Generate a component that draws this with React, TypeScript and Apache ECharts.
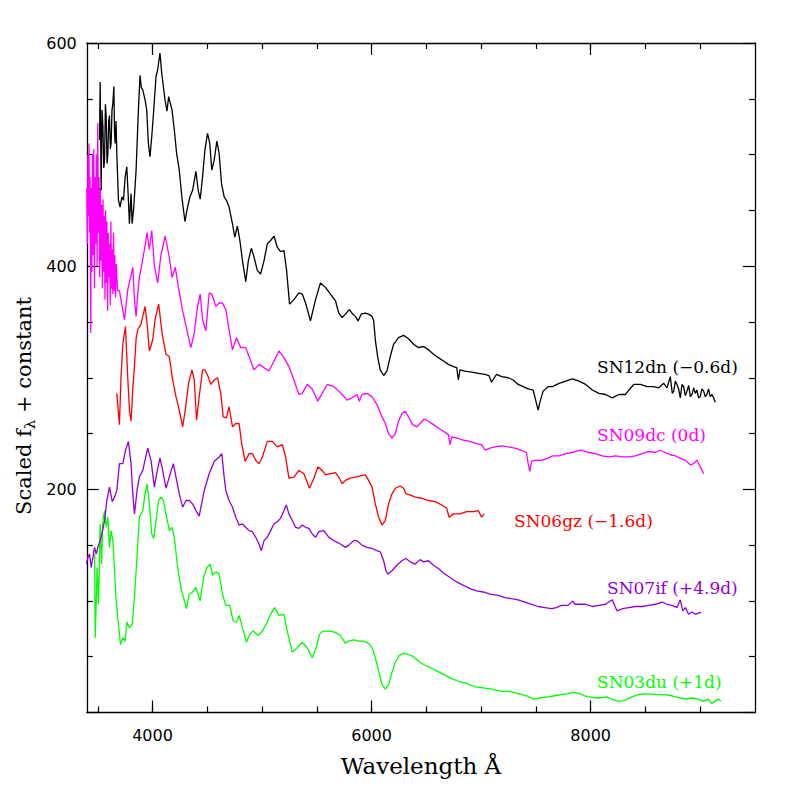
import React, { useEffect, useRef } from "react";
import * as echarts from "echarts";

// Wavelength (Å), scaled flux + constant
const SN12dn: [number, number][] = [
  [3516,513],[3522,565],[3531,468],[3539,540],[3547,525],[3555,488],[3562,495],[3570,545],[3577,534],[3585,492],[3592,500],[3600,530],[3607,535],[3615,505],[3622,510],[3630,540],[3638,546],[3647,561],[3653,520],[3659,510],[3667,530],[3674,501],[3689,459],[3704,453],[3720,462],[3735,459],[3750,480],[3765,489],[3780,459],[3789,438],[3804,465],[3814,438],[3829,453],[3850,486],[3871,540],[3886,571],[3898,560],[3911,558],[3932,549],[3947,540],[3962,510],[3977,498],[3993,516],[4011,540],[4032,570],[4047,576],[4068,591],[4084,573],[4099,561],[4114,549],[4132,539],[4147,552],[4162,546],[4178,540],[4199,522],[4220,501],[4244,486],[4268,462],[4296,440],[4314,450],[4341,462],[4366,468],[4396,485],[4417,468],[4435,460],[4457,480],[4478,504],[4502,519],[4523,510],[4541,486],[4563,495],[4587,512],[4608,501],[4630,474],[4654,462],[4675,459],[4699,453],[4730,438],[4751,426],[4775,436],[4799,422],[4821,405],[4851,386],[4875,405],[4902,416],[4927,408],[4957,396],[4987,393],[5018,405],[5048,420],[5078,423],[5109,427],[5139,417],[5169,413],[5200,414],[5224,396],[5251,366],[5291,370],[5336,376],[5367,375],[5397,367],[5442,351],[5488,370],[5533,385],[5579,381],[5624,375],[5670,369],[5700,358],[5731,354],[5761,357],[5797,361],[5828,357],[5852,355],[5876,351],[5906,357],[5943,358],[5973,357],[6004,355],[6019,351],[6034,334],[6055,319],[6079,307],[6110,302],[6140,306],[6170,319],[6201,330],[6246,336],[6292,338],[6337,335],[6383,330],[6428,327],[6474,328],[6519,325],[6565,321],[6610,318],[6656,315],[6701,312],[6747,310],[6777,309],[6792,298],[6807,307],[6853,306],[6913,305],[6974,304],[7035,303],[7071,302],[7095,296],[7120,300],[7141,303],[7187,301],[7247,300],[7293,298],[7338,294],[7384,292],[7429,290],[7475,289],[7505,277],[7520,271],[7541,280],[7566,288],[7611,292],[7651,292],[7711,295],[7772,297],[7833,299],[7893,297],[7954,294],[8015,289],[8075,286],[8136,285],[8197,282],[8257,285],[8318,285],[8348,289],[8394,294],[8454,294],[8515,292],[8576,292],[8621,291],[8667,295],[8697,291],[8727,301],[8745,286],[8758,288],[8773,297],[8788,294],[8803,290],[8818,282],[8834,294],[8849,292],[8864,284],[8879,288],[8895,293],[8910,283],[8925,285],[8940,291],[8955,286],[8970,289],[8985,282],[9000,283],[9015,290],[9031,288],[9046,283],[9061,285],[9076,290],[9091,283],[9107,285],[9122,282],[9137,278]
];

const SN09dc: [number, number][] = [
  [3400,470],[3405,420],[3410,500],[3415,445],[3420,510],[3425,430],[3430,480],[3436,340],[3440,470],[3446,395],[3452,500],[3458,410],[3464,505],[3470,380],[3476,480],[3482,420],[3488,500],[3494,400],[3500,528],[3506,430],[3512,480],[3518,390],[3524,470],[3530,405],[3536,455],[3542,380],[3548,460],[3554,395],[3560,445],[3566,370],[3572,450],[3578,385],[3584,440],[3590,360],[3596,430],[3602,390],[3608,420],[3614,365],[3620,440],[3626,380],[3632,415],[3638,375],[3644,430],[3650,378],[3656,410],[3662,372],[3670,402],[3680,378],[3698,378],[3720,365],[3744,352],[3774,379],[3800,390],[3820,399],[3835,370],[3850,355],[3865,375],[3880,390],[3900,400],[3917,410],[3935,420],[3950,430],[3971,415],[3993,432],[4017,400],[4047,385],[4077,410],[4100,420],[4114,427],[4130,420],[4153,408],[4178,390],[4208,399],[4238,380],[4275,360],[4320,340],[4350,327],[4381,340],[4411,364],[4435,375],[4457,352],[4487,342],[4517,376],[4541,375],[4578,364],[4608,367],[4639,367],[4669,361],[4699,343],[4730,325],[4766,336],[4805,327],[4851,327],[4881,319],[4927,307],[4972,312],[5018,309],[5063,306],[5109,315],[5154,324],[5200,318],[5245,310],[5291,298],[5336,285],[5367,286],[5412,294],[5458,290],[5509,279],[5549,286],[5594,294],[5655,292],[5700,288],[5731,285],[5776,280],[5822,282],[5867,285],[5888,279],[5912,285],[5958,286],[6004,283],[6049,276],[6095,265],[6125,259],[6155,250],[6186,246],[6216,250],[6246,261],[6276,268],[6307,270],[6337,265],[6374,258],[6413,256],[6443,259],[6480,263],[6519,261],[6565,258],[6610,255],[6656,252],[6701,249],[6716,240],[6732,247],[6777,246],[6838,244],[6898,243],[6959,241],[7004,240],[7035,235],[7080,237],[7126,238],[7187,239],[7247,238],[7308,237],[7368,235],[7414,233],[7429,223],[7444,216],[7460,225],[7490,226],[7550,226],[7611,228],[7651,230],[7711,230],[7772,232],[7833,233],[7893,235],[7924,235],[7984,233],[8045,232],[8106,230],[8166,229],[8227,230],[8288,229],[8348,229],[8409,230],[8470,232],[8530,234],[8591,233],[8636,235],[8682,233],[8727,231],[8773,230],[8818,228],[8864,226],[8909,222],[8940,223],[8970,226],[8991,222],[9016,217],[9031,214]
];

const SN06gz: [number, number][] = [
  [3674,286],[3698,258],[3712,300],[3729,330],[3753,346],[3774,300],[3790,270],[3804,261],[3820,290],[3835,310],[3850,335],[3865,343],[3895,348],[3932,364],[3950,349],[3971,324],[4002,334],[4023,352],[4056,366],[4087,340],[4123,321],[4153,319],[4184,298],[4214,283],[4244,271],[4275,256],[4299,271],[4329,295],[4360,307],[4381,298],[4402,262],[4426,283],[4457,307],[4478,307],[4508,301],[4532,294],[4563,298],[4593,300],[4623,286],[4645,265],[4675,264],[4699,274],[4730,256],[4760,259],[4790,259],[4814,241],[4845,225],[4881,232],[4912,232],[4942,226],[4972,223],[5003,229],[5048,243],[5094,243],[5139,238],[5185,240],[5215,229],[5245,210],[5291,211],[5336,217],[5382,214],[5433,201],[5473,210],[5509,220],[5549,217],[5579,213],[5624,214],[5670,215],[5700,211],[5731,205],[5761,208],[5806,210],[5852,211],[5897,212],[5943,213],[5973,208],[6004,202],[6034,187],[6064,175],[6095,168],[6125,172],[6155,187],[6186,196],[6216,201],[6261,203],[6292,201],[6313,196],[6352,195],[6398,193],[6459,192],[6519,190],[6580,189],[6640,186],[6686,183],[6707,175],[6747,178],[6807,178],[6868,180],[6929,180],[6974,181],[7004,175],[7026,178]
];

const SN07if: [number, number][] = [
  [3395,133],[3410,139],[3425,142],[3440,130],[3456,139],[3471,148],[3486,142],[3501,148],[3531,157],[3562,172],[3583,190],[3607,202],[3632,189],[3653,193],[3674,199],[3698,223],[3729,223],[3753,235],[3780,243],[3804,223],[3820,195],[3835,178],[3860,200],[3880,211],[3911,217],[3956,237],[3986,226],[4017,202],[4038,214],[4068,228],[4093,217],[4123,201],[4153,211],[4190,223],[4214,211],[4244,196],[4275,184],[4305,190],[4335,190],[4366,187],[4396,181],[4426,176],[4472,199],[4517,214],[4563,225],[4608,229],[4632,232],[4654,211],[4669,199],[4699,190],[4730,184],[4760,175],[4790,168],[4821,169],[4851,166],[4881,163],[4912,162],[4942,157],[4972,151],[4994,145],[5018,154],[5048,157],[5078,163],[5109,169],[5139,171],[5169,174],[5200,181],[5221,186],[5245,178],[5276,172],[5306,166],[5336,165],[5367,168],[5397,166],[5427,165],[5458,160],[5488,157],[5518,162],[5564,163],[5610,157],[5655,154],[5715,151],[5761,148],[5791,150],[5837,154],[5867,154],[5912,150],[5958,148],[6004,147],[6049,145],[6079,144],[6110,136],[6131,127],[6149,124],[6186,127],[6231,132],[6277,136],[6313,138],[6352,135],[6398,133],[6443,137],[6474,135],[6519,136],[6565,132],[6610,129],[6656,125],[6716,121],[6777,117],[6838,114],[6898,111],[6959,109],[7020,108],[7080,106],[7156,105],[7217,103],[7277,102],[7338,101],[7399,99],[7460,97],[7520,95],[7581,94],[7642,93],[7687,94],[7733,96],[7793,96],[7839,100],[7854,97],[7899,97],[7954,97],[8015,95],[8075,96],[8136,97],[8166,99],[8197,101],[8227,94],[8242,91],[8288,93],[8348,94],[8409,95],[8470,95],[8530,96],[8591,97],[8652,99],[8697,97],[8743,96],[8788,94],[8818,101],[8840,91],[8864,94],[8894,88],[8925,90],[8955,88],[8985,89],[9009,90]
];

const SN03du: [number, number][] = [
  [3471,142],[3477,67],[3495,130],[3507,97],[3522,169],[3535,133],[3547,172],[3562,181],[3577,166],[3592,175],[3607,148],[3622,163],[3638,154],[3653,127],[3668,100],[3683,85],[3707,61],[3729,67],[3750,64],[3765,81],[3789,76],[3814,79],[3835,103],[3856,136],[3880,175],[3911,181],[3932,196],[3950,205],[3971,187],[3993,160],[4011,156],[4032,172],[4056,190],[4077,193],[4099,190],[4123,178],[4153,163],[4178,166],[4199,157],[4229,130],[4259,112],[4290,100],[4311,93],[4335,106],[4366,108],[4396,112],[4435,100],[4466,121],[4496,130],[4526,133],[4548,123],[4578,126],[4608,124],[4639,106],[4669,96],[4705,96],[4736,82],[4766,81],[4790,87],[4821,76],[4857,63],[4887,70],[4918,73],[4963,69],[5003,73],[5048,81],[5078,88],[5115,94],[5154,87],[5200,88],[5230,73],[5276,54],[5321,58],[5367,63],[5412,58],[5458,49],[5494,58],[5524,70],[5555,73],[5609,73],[5664,72],[5715,69],[5761,62],[5791,64],[5837,65],[5882,64],[5928,64],[5973,62],[6004,58],[6034,49],[6064,37],[6095,25],[6125,21],[6155,25],[6186,36],[6216,45],[6252,51],[6292,53],[6337,52],[6383,50],[6428,46],[6474,43],[6519,41],[6580,38],[6640,35],[6716,31],[6792,28],[6868,26],[6944,23],[7020,22],[7096,21],[7187,19],[7262,19],[7338,17],[7414,15],[7481,12],[7535,13],[7611,14],[7672,15],[7733,16],[7793,17],[7839,18],[7899,17],[7945,15],[7981,14],[8072,13],[8148,14],[8193,12],[8254,10],[8315,11],[8375,14],[8436,16],[8497,17],[8588,16],[8679,16],[8740,15],[8815,13],[8876,12],[8921,13],[8982,12],[9028,10],[9073,12],[9104,8],[9134,10],[9164,12],[9189,10]
];

const seriesNames = ["SN12dn", "SN09dc", "SN06gz", "SN07if", "SN03du"];
const seriesLabels = ["SN12dn (−0.6d)", "SN09dc (0d)", "SN06gz (−1.6d)", "SN07if (+4.9d)", "SN03du (+1d)"];
const seriesColors = ["#000000", "#ff00ff", "#ff0000", "#9400d3", "#00ff00"];
const seriesData = [SN12dn, SN09dc, SN06gz, SN07if, SN03du];

const xMajorTicks = [4000, 6000, 8000];
const xMinorTicks = [3500, 4000, 4500, 5000, 5500, 6000, 6500, 7000, 7500, 8000, 8500, 9000];
const xRange = [3400, 9500];
const yRange = [0, 600];

const SERIF = "DejaVu Serif";
const SANS = "DejaVu Sans";

export default function App() {
  const ref = useRef<HTMLDivElement>(null);
  useEffect(() => {
    if (!ref.current) return;
    const chart = echarts.init(ref.current, null, { renderer: "svg" });

    const measure = (t: string, size: number) => {
      const c = document.createElement("canvas").getContext("2d")!;
      c.font = `${size}px "${SERIF}"`;
      return c.measureText(t).width;
    };
    const t1 = "Scaled f";
    const t2 = "λ";
    const t3 = " + constant";
    const fs = 21, fsSub = 15;
    const w1 = measure(t1, fs), w2 = measure(t2, fsSub), w3 = measure(t3, fs);
    const wTot = w1 + w2 + w3;
    const x0 = -wTot / 2;

    const baseX = {
      type: "value" as const,
      min: xRange[0],
      max: xRange[1],
      gridIndex: 0,
      splitLine: { show: false },
    };
    const baseY = {
      type: "value" as const,
      min: yRange[0],
      max: yRange[1],
      interval: 200,
      splitLine: { show: false },
    };
    const axisLine = { show: true, onZero: false, lineStyle: { color: "#000", width: 1.3 } };
    const tickStyle = { color: "#000", width: 1.2 };

    chart.setOption({
      animation: false,
      backgroundColor: "#ffffff",
      grid: { left: 86.8, right: 42, top: 43, bottom: 84.5, containLabel: false, outerBoundsMode: "none" },
      xAxis: [
        {
          ...baseX,
          position: "bottom",
          axisLine,
          axisTick: { show: true, inside: true, length: 12, customValues: xMajorTicks, lineStyle: tickStyle },
          axisLabel: {
            show: true, customValues: xMajorTicks, margin: 15, color: "#000", fontFamily: SANS, fontSize: 16,
            formatter: (v: number) => String(Math.round(v)),
          },
        },
        {
          ...baseX,
          position: "bottom",
          axisLine: { show: false, onZero: false },
          axisTick: { show: true, inside: true, length: 6, customValues: xMinorTicks, lineStyle: tickStyle },
          axisLabel: { show: false },
        },
        {
          ...baseX,
          position: "top",
          axisLine,
          axisTick: { show: true, inside: true, length: 12, customValues: xMajorTicks, lineStyle: tickStyle },
          axisLabel: { show: false },
        },
        {
          ...baseX,
          position: "top",
          axisLine: { show: false, onZero: false },
          axisTick: { show: true, inside: true, length: 6, customValues: xMinorTicks, lineStyle: tickStyle },
          axisLabel: { show: false },
        },
      ],
      yAxis: [
        {
          ...baseY,
          position: "left",
          axisLine,
          axisTick: { show: true, inside: true, length: 12, lineStyle: tickStyle },
          minorTick: { show: true, splitNumber: 4, length: 6, lineStyle: tickStyle },
          axisLabel: {
            show: true, margin: 10, color: "#000", fontFamily: SANS, fontSize: 16,
            formatter: (v: number) => (v === 0 ? "" : String(v)),
          },
        },
        {
          ...baseY,
          position: "right",
          axisLine,
          axisTick: { show: true, inside: true, length: 12, lineStyle: tickStyle },
          minorTick: { show: true, splitNumber: 4, length: 6, lineStyle: tickStyle },
          axisLabel: { show: false },
        },
      ],
      series: seriesData.map((d, i) => ({
        name: seriesNames[i],
        type: "line",
        xAxisIndex: 0,
        yAxisIndex: 0,
        data: d,
        showSymbol: false,
        symbol: "none",
        clip: true,
        lineStyle: { color: seriesColors[i], width: 1.3 },
        itemStyle: { color: seriesColors[i] },
        z: 5 - i,
      })),
      graphic: [
        ...seriesLabels.map((t, i) => ({
          type: "text",
          x: [597, 597, 514, 607, 597][i],
          y: [367, 435, 521, 588, 682][i],
          style: {
            text: t,
            fill: seriesColors[i],
            font: `17px "${SERIF}"`,
            verticalAlign: "middle",
            align: "left",
          },
        })),
        {
          type: "text",
          x: 421,
          y: 766,
          style: {
            text: "Wavelength Å",
            fill: "#000",
            font: `23px "${SERIF}"`,
            align: "center",
            verticalAlign: "middle",
          },
        },
        {
          type: "group",
          x: 24,
          y: 406,
          rotation: Math.PI / 2,
          children: [
            { type: "text", x: x0, y: 0, style: { text: t1, fill: "#000", font: `${fs}px "${SERIF}"`, align: "left", verticalAlign: "middle" } },
            { type: "text", x: x0 + w1, y: 6, style: { text: t2, fill: "#000", font: `${fsSub}px "${SERIF}"`, align: "left", verticalAlign: "middle" } },
            { type: "text", x: x0 + w1 + w2, y: 0, style: { text: t3, fill: "#000", font: `${fs}px "${SERIF}"`, align: "left", verticalAlign: "middle" } },
          ],
        },
      ],
    });
    return () => chart.dispose();
  }, []);
  return (
    <div
      ref={ref}
      style={{ position: "absolute", left: 0, top: 0, width: 797, height: 797, background: "#fff" }}
    />
  );
}
